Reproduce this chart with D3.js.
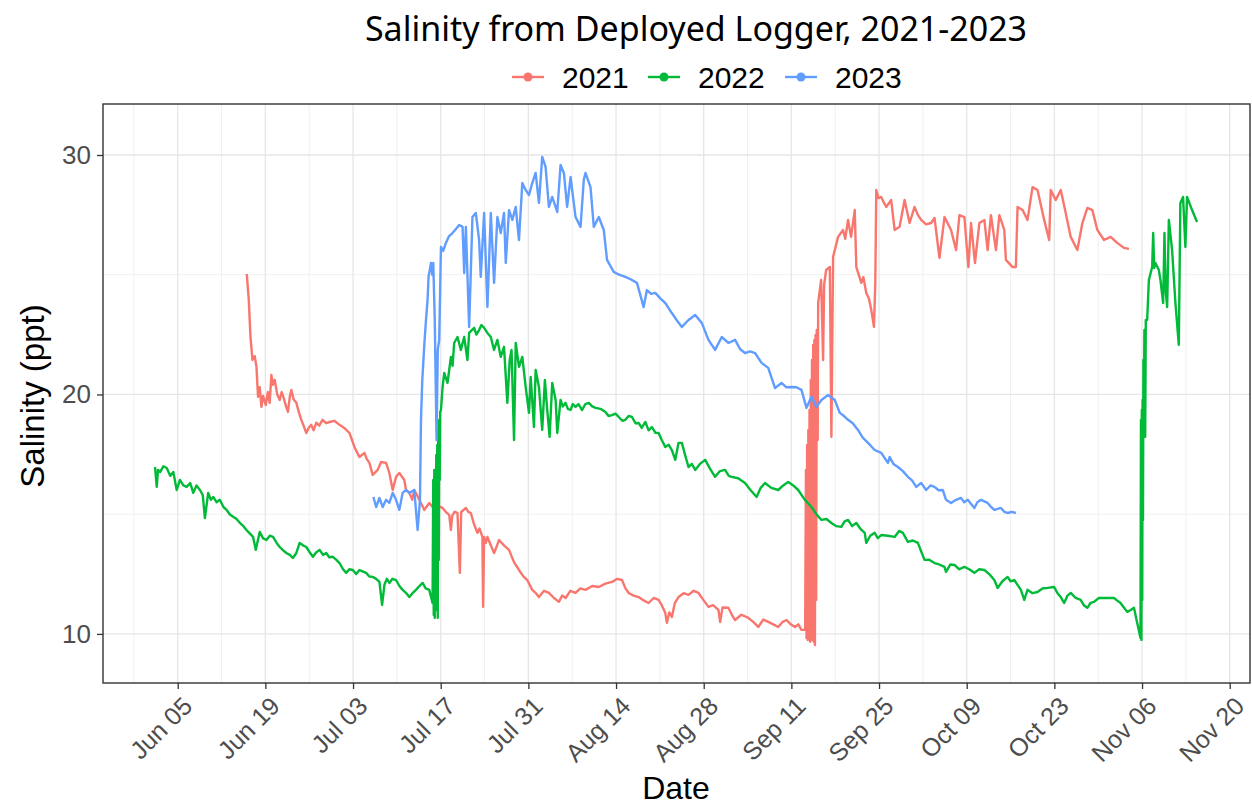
<!DOCTYPE html>
<html>
<head>
<meta charset="utf-8">
<script src="https://cdn.jsdelivr.net/npm/d3@7"></script>
<style>
    body { margin: 0; background: #fff; }
    svg { display: block; font-family: "Liberation Sans", Arial, sans-serif; }
</style>
</head>
<body>
<div id="chart"></div>
<script>
// [days after Jun 01, salinity (ppt)]
var s2021 = [
    [15.03,25.03],[15.35,23.95],[15.62,22.40],[15.94,21.44],[16.3,21.6],[16.58,21.15],[16.83,19.90],[17.1,20.3],[17.37,19.48],[17.63,19.94],
    [18.06,19.56],[18.4,20.1],[18.69,19.65],[18.96,20.82],[19.2,20.4],[19.49,20.61],[19.9,20.0],[20.29,19.77],[20.6,20.1],[20.92,19.86],
    [21.3,19.5],[21.61,19.27],[21.9,19.9],[22.15,20.19],[22.5,19.8],[22.95,19.65],[23.3,19.3],[23.74,18.94],[24.1,18.7],[24.54,18.39],
    [24.9,18.6],[25.33,18.73],[25.7,18.5],[26.13,18.82],[26.6,18.7],[27.13,18.94],[27.7,18.8],[28.25,18.85],[29.0,18.9],[29.84,18.73],
    [30.6,18.6],[31.43,18.39],[32.23,17.81],[32.6,17.6],[33.03,17.39],[33.82,17.56],[34.2,17.3],[34.62,17.14],[35.14,16.64],[35.94,16.85],
    [36.48,17.18],[37.28,17.14],[37.80,16.72],[38.33,16.01],[38.87,16.56],[39.39,16.72],[40.19,16.43],[40.46,16.01],[40.99,15.89],[41.46,15.60],
    [41.78,16.01],[42.2,15.8],[42.58,15.60],[43.38,15.18],[44.17,15.47],[44.7,15.3],[45.24,15.39],[46.29,15.26],[46.8,15.1],[47.36,14.97],
    [47.63,14.34],[47.83,14.93],[48.2,15.1],[48.68,15.05],[49.06,12.55],[49.27,15.09],[50.02,15.26],[50.4,15.1],[50.81,15.05],[51.3,14.6],
    [51.86,14.22],[52.2,14.4],[52.66,14.05],[52.77,11.13],[52.93,14.05],[53.2,13.8],[53.46,14.05],[54.0,13.7],[54.52,13.38],[55.0,13.7],
    [55.32,13.92],[56.1,13.7],[56.91,13.51],[57.7,13.0],[58.50,12.67],[59.2,12.4],[59.82,12.25],[60.62,11.84],[61.2,11.7],[61.69,11.54],
    [62.5,11.8],[63.28,11.71],[64.1,11.5],[64.87,11.34],[65.4,11.6],[65.94,11.50],[66.7,11.8],[67.53,11.71],[68.3,11.9],[69.12,11.84],
    [70.2,12.0],[71.24,11.96],[72.3,12.1],[73.36,12.17],[74.2,12.3],[74.95,12.25],[75.5,11.9],[76.02,11.71],[76.8,11.6],[77.61,11.54],
    [78.4,11.4],[79.20,11.29],[80.0,11.5],[80.80,11.42],[81.3,11.2],[81.86,10.88],[82.12,10.46],[82.5,10.9],[82.91,10.71],[83.4,11.3],
    [83.98,11.54],[84.8,11.7],[85.57,11.63],[86.4,11.8],[87.17,11.71],[88.0,11.4],[88.76,11.13],[89.5,11.2],[90.35,11.00],[90.62,10.50],
    [91.0,11.1],[91.94,11.09],[92.5,10.8],[93.01,10.58],[94.0,10.8],[95.13,10.67],[95.9,10.5],[96.72,10.29],[97.5,10.6],[98.31,10.50],
    [99.1,10.4],[99.90,10.29],[100.6,10.5],[101.23,10.58],[101.9,10.4],[102.56,10.29],[103.1,10.4],[103.61,10.17],[104.16,10.17],
    [104.2,10.17],[104.33,16.85],[104.42,9.83],[104.52,17.89],[104.62,9.75],[104.71,18.52],[104.81,9.83],[104.90,19.35],[105.0,9.67],
    [105.10,20.61],[105.19,9.75],[105.29,21.44],[105.38,9.83],[105.48,22.07],[105.57,9.67],[105.67,22.28],[105.76,9.54],[105.86,22.49],
    [105.96,11.42],[106.05,22.69],[106.20,18.10],[106.28,23.82],[106.75,24.78],[107.07,21.44],[107.23,24.57],[107.55,25.20],[108.14,25.32],
    [108.39,18.23],[108.66,25.74],[109.0,26.1],[109.46,26.58],[110.25,26.87],[110.6,26.5],[111.05,27.29],[111.53,26.58],[112.12,27.70],
    [112.37,25.32],[113.17,24.66],[113.5,24.9],[113.96,24.24],[114.4,24.0],[114.76,23.53],[115.19,22.82],[115.40,24.66],[115.56,28.54],
    [115.9,28.2],[116.35,28.25],[116.8,28.0],[117.15,27.83],[117.94,28.12],[118.49,26.87],[119.28,27.00],[120.08,28.12],[120.88,27.16],
    [121.67,27.83],[122.2,27.5],[122.72,27.29],[123.5,27.1],[124.31,27.16],[124.86,27.37],[125.65,25.70],[126.45,27.41],[127.50,26.87],
    [128.30,26.03],[128.84,27.49],[129.63,27.41],[130.27,25.32],[130.69,27.16],[131.32,25.49],[132.02,27.16],[132.82,27.29],[133.34,26.03],
    [133.87,27.49],[134.67,26.03],[135.21,27.49],[136.0,26.87],[136.26,25.62],[137.33,25.32],[137.85,25.32],[138.12,27.83],[138.92,27.70],
    [139.71,27.29],[140.51,28.66],[141.31,28.54],[142.37,27.29],[143.17,26.45],[143.42,28.54],[144.22,28.12],[145.02,28.54],[145.81,27.58],
    [146.61,26.58],[147.67,26.03],[148.47,27.16],[149.27,27.79],[150.06,27.70],[150.86,26.87],[151.93,26.45],[152.98,26.58],[154.04,26.33],
    [155.11,26.12],[155.91,26.08]
];

var s2022 = [
    [0.38,16.97],[0.65,16.14],[0.86,16.85],[1.18,16.76],[1.7,17.0],[2.25,16.93],[2.8,16.6],[3.30,16.76],[3.84,16.01],[4.36,16.43],
    [4.9,16.2],[5.43,16.14],[6.0,16.3],[6.48,15.89],[7.0,16.2],[7.55,16.01],[8.0,15.8],[8.34,14.84],[8.87,15.89],[9.3,15.6],
    [9.67,15.72],[10.2,15.5],[10.73,15.60],[11.3,15.3],[11.80,15.18],[12.3,15.0],[12.85,14.89],[13.4,14.8],[13.92,14.64],[14.5,14.5],
    [14.98,14.34],[15.5,14.2],[16.04,14.05],[16.46,13.51],[17.10,14.26],[17.6,14.0],[18.17,13.92],[18.7,14.1],[19.22,14.05],[19.8,13.8],
    [20.29,13.63],[20.8,13.5],[21.35,13.38],[21.9,13.3],[22.40,13.17],[22.95,13.38],[23.47,13.80],[24.0,13.7],[24.54,13.63],[25.1,13.4],
    [25.59,13.22],[26.1,13.4],[26.66,13.51],[27.2,13.3],[27.72,13.38],[28.2,13.2],[28.77,13.22],[29.3,13.1],[29.84,12.96],[30.4,12.7],
    [30.91,12.55],[31.4,12.7],[31.96,12.67],[32.5,12.5],[33.03,12.67],[33.6,12.6],[34.09,12.55],[34.6,12.4],[35.14,12.38],[35.7,12.3],
    [36.21,12.17],[36.64,11.21],[37.01,12.05],[37.4,12.3],[37.80,12.13],[38.3,12.3],[38.87,12.25],[39.4,12.0],[39.92,11.84],[40.5,11.7],
    [40.99,11.54],[41.5,11.7],[42.05,11.84],[42.6,12.0],[43.11,12.13],[43.6,11.9],[44.17,11.84],[44.70,11.29],
    [44.81,16.43],[44.89,10.79],[44.97,16.85],[45.05,10.67],[45.13,16.43],[45.21,11.00],[45.29,17.47],[45.37,11.21],[45.45,17.89],
    [45.53,10.67],[45.61,18.52],[45.69,13.09],[45.76,18.94],[45.84,16.43],[45.92,19.27],[46.04,19.35],[46.3,20.3],[46.56,20.90],
    [47.09,20.48],[47.63,21.57],[47.9,21.2],[48.15,22.15],[48.68,22.40],[49.22,21.86],[49.75,22.40],[50.27,21.44],[50.54,22.57],
    [51.34,22.78],[51.7,22.5],[52.13,22.69],[52.5,22.9],[52.93,22.78],[53.46,22.57],[54.0,22.40],[54.52,21.86],[55.05,22.28],[55.59,21.57],
    [56.11,21.99],[56.64,19.65],[57.02,21.44],[57.31,21.86],[57.71,18.10],[57.98,22.15],[58.50,21.15],[59.03,21.57],[59.57,20.31],
    [60.10,19.23],[60.37,20.73],[60.89,18.64],[61.16,21.02],[61.69,20.31],[62.21,18.52],[62.64,20.61],[63.01,19.35],[63.39,18.23],
    [63.81,20.48],[64.35,19.77],[64.61,18.39],[65.14,19.77],[65.5,19.5],[65.94,19.65],[66.3,19.4],[66.74,19.35],[67.1,19.6],[67.53,19.48],
    [68.0,19.6],[68.58,19.35],[69.1,19.6],[69.65,19.65],[70.2,19.5],[70.72,19.44],[71.5,19.4],[72.31,19.27],[72.8,19.1],[73.36,19.14],
    [73.9,19.2],[74.43,19.06],[75.0,18.9],[75.49,18.94],[76.0,19.1],[76.55,19.06],[77.1,18.8],[77.61,18.81],[78.1,18.6],[78.68,18.85],
    [79.2,18.5],[79.73,18.64],[80.3,18.4],[80.80,18.39],[81.3,18.1],[81.86,17.81],[82.4,17.9],[82.91,17.68],[83.46,17.27],[83.98,17.98],
    [84.51,17.98],[85.0,17.5],[85.57,16.97],[86.1,17.1],[86.64,16.85],[87.4,17.1],[88.23,17.27],[89.0,16.9],[89.82,16.56],[90.6,16.8],
    [91.42,16.85],[92.0,16.6],[92.47,16.56],[93.5,16.5],[94.60,16.30],[95.5,16.0],[96.45,15.72],[97.1,16.1],[97.79,16.30],[98.8,16.1],
    [99.90,16.01],[100.7,16.2],[101.50,16.35],[102.3,16.2],[103.09,16.01],[104.16,15.60],[105.21,15.30],[106.0,15.0],[106.80,14.76],
    [107.6,14.8],[108.39,14.63],[109.2,14.5],[109.98,14.47],[110.5,14.7],[111.05,14.76],[111.7,14.5],[112.37,14.63],[113.0,14.4],
    [113.71,14.22],[113.96,13.80],[114.6,14.1],[115.30,14.22],[115.8,14.0],[116.35,14.13],[117.4,14.1],[118.49,14.05],[119.2,14.3],
    [119.81,14.22],[120.61,13.84],[121.4,13.9],[122.20,13.80],[123.26,13.09],[124.0,13.1],[124.86,12.96],[125.6,12.9],[126.45,12.80],
    [126.70,12.59],[127.4,12.9],[128.04,12.88],[128.8,12.7],[129.63,12.80],[130.4,12.7],[131.22,12.55],[132.0,12.7],[132.82,12.67],
    [133.6,12.5],[134.41,12.25],[134.94,11.92],[135.7,12.2],[136.53,12.38],[137.0,12.2],[137.60,12.25],[138.65,11.84],[139.19,11.42],
    [139.71,11.84],[140.5,11.7],[141.31,11.75],[142.1,11.9],[142.90,11.92],[143.97,11.96],[144.5,11.7],[145.02,11.54],[145.56,11.29],
    [146.1,11.6],[146.61,11.71],[147.4,11.5],[148.20,11.42],[148.7,11.2],[149.27,11.09],[149.8,11.3],[150.33,11.34],[151.1,11.5],
    [151.93,11.50],[152.7,11.5],[153.52,11.50],[154.0,11.4],[154.57,11.29],[155.1,11.1],[155.64,10.92],[156.2,11.0],[156.71,11.09],
    [157.23,10.46],[157.75,9.83],
    [157.83,18.94],[157.90,9.75],[157.96,19.35],[158.03,11.42],[158.09,19.77],[158.15,14.76],[158.22,21.44],[158.30,19.65],[158.38,22.69],
    [158.50,18.23],[158.60,23.11],[158.82,23.11],[159.09,24.78],[159.62,25.32],[159.78,26.74],[159.94,25.28],[160.14,25.49],[160.68,25.20],
    [160.94,24.78],[161.37,23.82],[161.58,26.74],[161.77,24.36],[162.01,23.65],[162.28,27.29],[162.80,26.03],[163.33,23.82],[163.87,22.07],
    [164.12,28.0],[164.55,28.25],[164.92,26.16],[165.19,28.25],[165.99,27.70],[166.78,27.20]
];

var s2023 = [
    [35.25,15.72],[35.69,15.30],[36.21,15.68],[36.74,15.30],[37.28,15.60],[37.80,15.47],[38.33,15.89],[38.87,15.60],[39.39,15.18],[39.92,15.89],
    [40.46,16.01],[40.99,15.89],[41.78,16.01],[42.31,14.34],[42.69,15.60],[42.85,18.94],[43.06,20.61],[43.38,22.07],[43.65,23.11],[43.90,23.95],
    [44.06,24.91],[44.45,25.49],[44.65,24.99],[44.81,25.49],[45.05,23.11],[45.34,18.10],[45.53,21.86],[45.76,22.28],[46.04,26.16],[46.4,26.0],
    [46.83,26.33],[47.3,26.6],[47.88,26.74],[48.4,26.9],[48.95,27.08],[49.49,27.00],[49.75,25.07],[50.02,27.00],[50.54,22.82],[51.07,27.41],
    [51.61,27.58],[52.13,26.45],[52.40,24.91],[52.93,27.58],[53.46,23.65],[54.0,27.58],[54.52,24.66],[55.05,27.41],[55.59,26.74],[56.11,27.58],
    [56.39,25.49],[56.91,27.70],[57.44,27.29],[57.98,27.83],[58.50,26.45],[59.03,28.83],[59.57,28.54],[60.10,28.33],[60.62,28.83],[61.16,29.25],
    [61.69,28.0],[62.21,29.92],[62.75,29.50],[63.28,27.83],[63.81,28.25],[64.61,27.62],[65.14,29.58],[65.67,29.25],[66.19,27.83],[66.74,29.08],
    [67.53,27.41],[68.33,27.0],[68.85,28.96],[69.12,29.25],[69.92,28.66],[70.45,27.0],[71.24,27.41],[72.04,26.87],[72.56,25.62],[73.63,25.12],
    [74.5,25.0],[75.49,24.91],[76.4,24.8],[77.34,24.66],[78.41,23.65],[78.93,24.36],[79.6,24.2],[80.27,24.24],[81.1,24.0],[81.86,23.82],
    [82.91,23.40],[83.7,23.1],[84.51,22.82],[85.57,23.11],[86.64,23.32],[87.69,22.99],[88.76,22.28],[89.82,21.86],[90.88,22.40],[91.94,22.15],
    [93.01,22.28],[93.8,21.9],[94.60,21.73],[95.4,21.8],[96.19,21.73],[97.24,21.32],[98.31,21.11],[99.38,20.27],[100.43,20.48],[101.2,20.3],
    [102.02,20.31],[102.8,20.3],[103.61,20.19],[104.41,19.44],[105.21,19.90],[106.0,19.48],[106.80,19.77],[107.87,19.98],[108.93,19.77],
    [109.73,19.23],[110.4,19.1],[111.05,18.94],[111.8,18.8],[112.64,18.52],[113.4,18.2],[114.24,17.98],[115.30,17.68],[116.35,17.56],
    [117.42,17.14],[117.69,17.39],[118.3,17.1],[119.01,16.97],[119.8,16.8],[120.61,16.56],[121.3,16.4],[121.93,16.14],[122.72,16.30],
    [123.52,16.01],[124.2,16.2],[124.86,16.14],[125.5,16.0],[126.18,16.01],[126.70,15.60],[127.50,15.47],[128.3,15.6],[129.09,15.68],
    [129.6,15.5],[130.16,15.60],[131.22,15.26],[131.7,15.5],[132.28,15.60],[133.34,15.47],[133.9,15.3],[134.41,15.18],[135.46,15.26],
    [136.0,15.1],[136.53,15.05],[137.2,15.1],[137.85,15.05]
];

var years = ["2021", "2022", "2023"];
var colors = ["#F8766D", "#00BA38", "#619CFF"];
var yTicks = [10, 20, 30];
var yMinor = [15, 25];
var xTickLabels = ["Jun 05", "Jun 19", "Jul 03", "Jul 17", "Jul 31", "Aug 14", "Aug 28",
    "Sep 11", "Sep 25", "Oct 09", "Oct 23", "Nov 06", "Nov 20"];

var width = 1252, height = 808;
var margin = {top: 104, right: 2, bottom: 125, left: 103};
var base = new Date(2021, 5, 1);

function dayToDate(d) {
    return new Date(base.getTime() + d * 864e5);
}

var parseTick = d3.timeParse("%b %d %Y");
var tickDates = xTickLabels.map(function (t) { return parseTick(t + " 2021"); });

var svg = d3.select("#chart")
    .append("svg")
    .attr("width", width)
    .attr("height", height);

var x = d3.scaleTime()
    .domain([dayToDate(-7.93), dayToDate(175.24)])
    .range([margin.left, width - margin.right]);

var y = d3.scaleLinear()
    .domain([7.95, 32.13])
    .range([height - margin.bottom, margin.top]);

// minor grid (half way between the date ticks)
var minorDates = [dayToDate(-3)].concat(tickDates.slice(0, -1).map(function (d) {
    return d3.timeDay.offset(d, 7);
}));

var grid = svg.append("g");
grid.selectAll(".vminor")
    .data(minorDates)
    .enter().append("line")
    .attr("x1", function (d) { return x(d); })
    .attr("x2", function (d) { return x(d); })
    .attr("y1", margin.top)
    .attr("y2", height - margin.bottom)
    .attr("stroke", "#f0f0f0")
    .attr("stroke-width", 1);

grid.selectAll(".hminor")
    .data(yMinor)
    .enter().append("line")
    .attr("x1", margin.left)
    .attr("x2", width - margin.right)
    .attr("y1", function (d) { return y(d); })
    .attr("y2", function (d) { return y(d); })
    .attr("stroke", "#f0f0f0")
    .attr("stroke-width", 1);

grid.selectAll(".vmajor")
    .data(tickDates)
    .enter().append("line")
    .attr("x1", function (d) { return x(d); })
    .attr("x2", function (d) { return x(d); })
    .attr("y1", margin.top)
    .attr("y2", height - margin.bottom)
    .attr("stroke", "#e6e6e6")
    .attr("stroke-width", 1.3);

grid.selectAll(".hmajor")
    .data(yTicks)
    .enter().append("line")
    .attr("x1", margin.left)
    .attr("x2", width - margin.right)
    .attr("y1", function (d) { return y(d); })
    .attr("y2", function (d) { return y(d); })
    .attr("stroke", "#e6e6e6")
    .attr("stroke-width", 1.3);

// lines
var line = d3.line()
    .x(function (d) { return x(dayToDate(d[0])); })
    .y(function (d) { return y(d[1]); });

var series = [s2021, s2022, s2023];
svg.append("g")
    .selectAll("path")
    .data(series)
    .enter().append("path")
    .attr("fill", "none")
    .attr("stroke", function (d, i) { return colors[i]; })
    .attr("stroke-width", 2.4)
    .attr("stroke-linejoin", "round")
    .attr("d", line);

// panel border
svg.append("rect")
    .attr("x", margin.left)
    .attr("y", margin.top)
    .attr("width", width - margin.left - margin.right)
    .attr("height", height - margin.top - margin.bottom)
    .attr("fill", "none")
    .attr("stroke", "#333")
    .attr("stroke-width", 1.4);

// axes
var xAxis = svg.append("g")
    .attr("transform", "translate(0," + (height - margin.bottom) + ")")
    .call(d3.axisBottom(x).tickValues(tickDates).tickFormat(d3.timeFormat("%b %d")).tickSize(6).tickSizeOuter(0));
xAxis.select(".domain").remove();
xAxis.selectAll("line").attr("stroke", "#333").attr("stroke-width", 1.3);
xAxis.selectAll("text")
    .attr("x", 0)
    .attr("y", 0)
    .attr("dy", "0.71em")
    .attr("transform", "translate(3,12) rotate(-45)")
    .attr("text-anchor", "end")
    .attr("fill", "#4d4d4d")
    .attr("font-size", "25px")
    .attr("font-family", "Liberation Sans, Arial, sans-serif");

var yAxis = svg.append("g")
    .attr("transform", "translate(" + margin.left + ",0)")
    .call(d3.axisLeft(y).tickValues(yTicks).tickSize(6).tickSizeOuter(0));
yAxis.select(".domain").remove();
yAxis.selectAll("line").attr("stroke", "#333").attr("stroke-width", 1.3);
yAxis.selectAll("text")
    .attr("x", -12)
    .attr("fill", "#4d4d4d")
    .attr("font-size", "26px")
    .attr("font-family", "Liberation Sans, Arial, sans-serif");

// titles
svg.append("text")
    .attr("x", 696)
    .attr("y", 41)
    .attr("text-anchor", "middle")
    .attr("font-family", "Noto Sans, Open Sans, sans-serif")
    .attr("font-size", "34px")
    .attr("fill", "#000")
    .text("Salinity from Deployed Logger, 2021-2023");

svg.append("text")
    .attr("x", 676)
    .attr("y", 799)
    .attr("text-anchor", "middle")
    .attr("font-size", "32px")
    .attr("fill", "#000")
    .text("Date");

svg.append("text")
    .attr("transform", "rotate(-90)")
    .attr("x", -396)
    .attr("y", 44)
    .attr("text-anchor", "middle")
    .attr("font-size", "33px")
    .attr("fill", "#000")
    .text("Salinity (ppt)");

// legend
var legendX = [528, 664, 801];
var legend = svg.append("g")
    .selectAll("g")
    .data(years)
    .enter().append("g")
    .attr("transform", function (d, i) { return "translate(" + legendX[i] + ",77)"; });

legend.append("line")
    .attr("x1", -16)
    .attr("x2", 16)
    .attr("stroke", function (d, i) { return colors[i]; })
    .attr("stroke-width", 2.4);

legend.append("circle")
    .attr("r", 4.5)
    .attr("fill", function (d, i) { return colors[i]; });

legend.append("text")
    .attr("x", 34)
    .attr("y", 11)
    .attr("font-size", "30px")
    .attr("fill", "#000")
    .text(function (d) { return d; });
</script>
</body>
</html>
